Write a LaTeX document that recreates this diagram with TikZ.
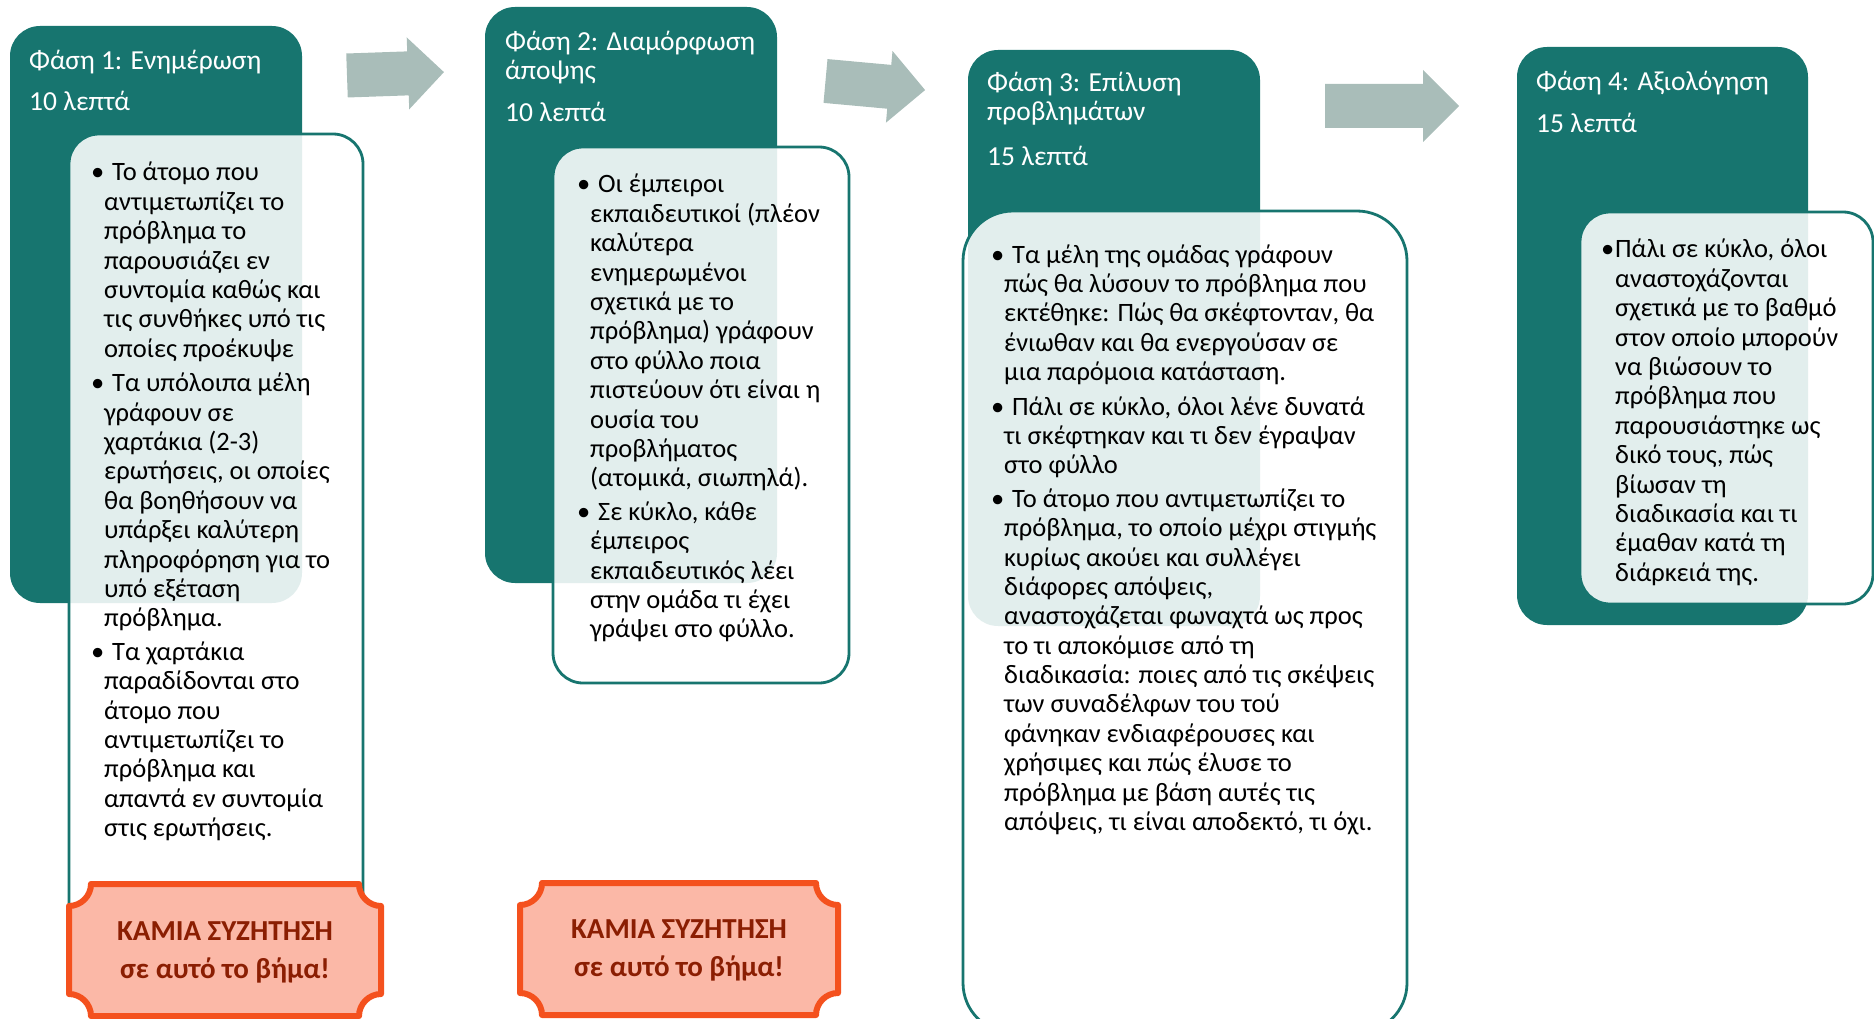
\documentclass[tikz,border=0pt]{standalone}
\usepackage{fontspec}
\setmainfont{Carlito}
\definecolor{tealA}{HTML}{17756F}
\definecolor{arrowgray}{HTML}{A9BDB9}
\definecolor{badgefill}{HTML}{FBB8A7}
\definecolor{badgeline}{HTML}{F4511E}
\definecolor{badgeink}{HTML}{8B1E02}
\newcommand{\bul}{\hspace*{-13pt}\makebox[21pt][l]{•}}
\newcommand{\bulB}{\hspace*{-14pt}\makebox[14pt][l]{•}}
\newcommand{\mkplaque}[4]{%
  \path[plaquestyle] (#1+22,#2) -- (#3-22,#2)
    .. controls (#3-22,#2+12) and (#3-12,#2+22) .. (#3,#2+22) -- (#3,#4-22)
    .. controls (#3-12,#4-22) and (#3-22,#4-12) .. (#3-22,#4) -- (#1+22,#4)
    .. controls (#1+22,#4-12) and (#1+12,#4-22) .. (#1,#4-22) -- (#1,#2+22)
    .. controls (#1+12,#2+22) and (#1+22,#2+12) .. (#1+22,#2) -- cycle;}
\newcommand{\lines}[1]{\begin{tabular}[t]{@{}l@{}}#1\end{tabular}}
\newcommand{\clines}[1]{\begin{tabular}[t]{@{}c@{}}#1\end{tabular}}
\begin{document}
\begin{tikzpicture}[x=1pt,y=-1pt,
  tealbox/.style={fill=tealA, draw=none, rounded corners=30, inner sep=0pt, outer sep=0pt, anchor=north west},
  infobox/.style={fill=white, fill opacity=0.88, draw=tealA, line width=2.8pt, inner sep=0pt, outer sep=0pt, anchor=north west},
  titletext/.style={text=white, font=\fontsize{27.5}{28.5}\selectfont, inner sep=0pt, anchor=base west},
  bodytext/.style={text=black, font=\fontsize{26.5}{29.4}\selectfont, inner sep=0pt, anchor=base west},
  plaquestyle/.style={fill=badgefill, draw=badgeline, line width=6pt, line join=round},
  badgetext/.style={text=badgeink, font=\fontsize{29}{38}\selectfont\bfseries, inner sep=0pt, anchor=base},
  arrowshape/.style={fill=arrowgray, draw=none}
]
\useasboundingbox (0,0) rectangle (1874,1019);
\clip (0,0) rectangle (1874,1019);

% teal phase panels
\node[tealbox, minimum width=292, minimum height=577] (p1) at (10,26) {};
\node[tealbox, minimum width=292, minimum height=576] (p2) at (485,7) {};
\node[tealbox, minimum width=292, minimum height=576] (p3) at (968,50) {};
\node[tealbox, minimum width=291, minimum height=578] (p4) at (1517,47) {};

% arrows
\path[arrowshape, shift={(347,75.5)}, rotate=2]
  (0,-22) -- (61,-22) -- (61,-36) -- (97,0) -- (61,36) -- (61,22) -- (0,22) -- cycle;
\path[arrowshape, shift={(825.5,81)}, rotate=-5.2]
  (0,-22) -- (64,-22) -- (64,-36) -- (100,0) -- (64,36) -- (64,22) -- (0,22) -- cycle;
\path[arrowshape, shift={(1325,106)}]
  (0,-22) -- (98,-22) -- (98,-36) -- (134,0) -- (98,36) -- (98,22) -- (0,22) -- cycle;

% white content boxes
\node[infobox, rounded corners=30, minimum width=294, minimum height=830] (w1) at (69,134) {};
\node[infobox, rounded corners=30, minimum width=296, minimum height=536] (w2) at (553,147) {};
\node[infobox, rounded corners=50, minimum width=444, minimum height=822] (w3) at (963,211) {};
\node[infobox, rounded corners=30, minimum width=293, minimum height=392] (w4) at (1580,212) {};

% titles
\node[titletext] (h1) at (29,70) {Φάση 1: Ενημέρωση};
\node[titletext] (d1) at (29,111) {10 λεπτά};
\node[titletext] (h2) at (505,51) {\lines{Φάση 2: Διαμόρφωση\\άποψης}};
\node[titletext] (d2) at (505,122) {10 λεπτά};
\node[titletext] (h3) at (987,92) {\lines{Φάση 3: Επίλυση\\προβλημάτων}};
\node[titletext] (d3) at (987,165.5) {15 λεπτά};
\node[titletext] (h4) at (1536,91) {Φάση 4: Αξιολόγηση};
\node[titletext] (d4) at (1536,132.5) {15 λεπτά};

% body texts
\node[bodytext] (t1) at (104,181) {\lines{\bul Το άτομο που\\
αντιμετωπίζει το\\
πρόβλημα το\\
παρουσιάζει εν\\
συντομία καθώς και\\
τις συνθήκες υπό τις\\
οποίες προέκυψε\\[5pt]
\bul Τα υπόλοιπα μέλη\\
γράφουν σε\\
χαρτάκια (2-3)\\
ερωτήσεις, οι οποίες\\
θα βοηθήσουν να\\
υπάρξει καλύτερη\\
πληροφόρηση για το\\
υπό εξέταση\\
πρόβλημα.\\[4pt]
\bul Τα χαρτάκια\\
παραδίδονται στο\\
άτομο που\\
αντιμετωπίζει το\\
πρόβλημα και\\
απαντά εν συντομία\\
στις ερωτήσεις.}};

\node[bodytext] (t2) at (590,193) {\lines{\bul Οι έμπειροι\\
εκπαιδευτικοί (πλέον\\
καλύτερα\\
ενημερωμένοι\\
σχετικά με το\\
πρόβλημα) γράφουν\\
στο φύλλο ποια\\
πιστεύουν ότι είναι η\\
ουσία του\\
προβλήματος\\
(ατομικά, σιωπηλά).\\[4pt]
\bul Σε κύκλο, κάθε\\
έμπειρος\\
εκπαιδευτικός λέει\\
στην ομάδα τι έχει\\
γράψει στο φύλλο.}};

\node[bodytext] (t3) at (1004,263) {\lines{\bul Τα μέλη της ομάδας γράφουν\\
πώς θα λύσουν το πρόβλημα που\\
εκτέθηκε: Πώς θα σκέφτονταν, θα\\
ένιωθαν και θα ενεργούσαν σε\\
μια παρόμοια κατάσταση.\\[5pt]
\bul Πάλι σε κύκλο, όλοι λένε δυνατά\\
τι σκέφτηκαν και τι δεν έγραψαν\\
στο φύλλο\\[4pt]
\bul Το άτομο που αντιμετωπίζει το\\
πρόβλημα, το οποίο μέχρι στιγμής\\
κυρίως ακούει και συλλέγει\\
διάφορες απόψεις,\\
αναστοχάζεται φωναχτά ως προς\\
το τι αποκόμισε από τη\\
διαδικασία: ποιες από τις σκέψεις\\
των συναδέλφων του τού\\
φάνηκαν ενδιαφέρουσες και\\
χρήσιμες και πώς έλυσε το\\
πρόβλημα με βάση αυτές τις\\
απόψεις, τι είναι αποδεκτό, τι όχι.}};

\node[bodytext] (t4) at (1615,258) {\lines{\bulB Πάλι σε κύκλο, όλοι\\
αναστοχάζονται\\
σχετικά με το βαθμό\\
στον οποίο μπορούν\\
να βιώσουν το\\
πρόβλημα που\\
παρουσιάστηκε ως\\
δικό τους, πώς\\
βίωσαν τη\\
διαδικασία και τι\\
έμαθαν κατά τη\\
διάρκειά της.}};

% warning plaques
\mkplaque{69}{884}{381}{1016}
\mkplaque{520}{883}{838}{1015}
\node[badgetext] (b1) at (225,940) {\clines{ΚΑΜΙΑ ΣΥΖΗΤΗΣΗ\\σε αυτό το βήμα!}};
\node[badgetext] (b2) at (679,938) {\clines{ΚΑΜΙΑ ΣΥΖΗΤΗΣΗ\\σε αυτό το βήμα!}};
\end{tikzpicture}
\end{document}
